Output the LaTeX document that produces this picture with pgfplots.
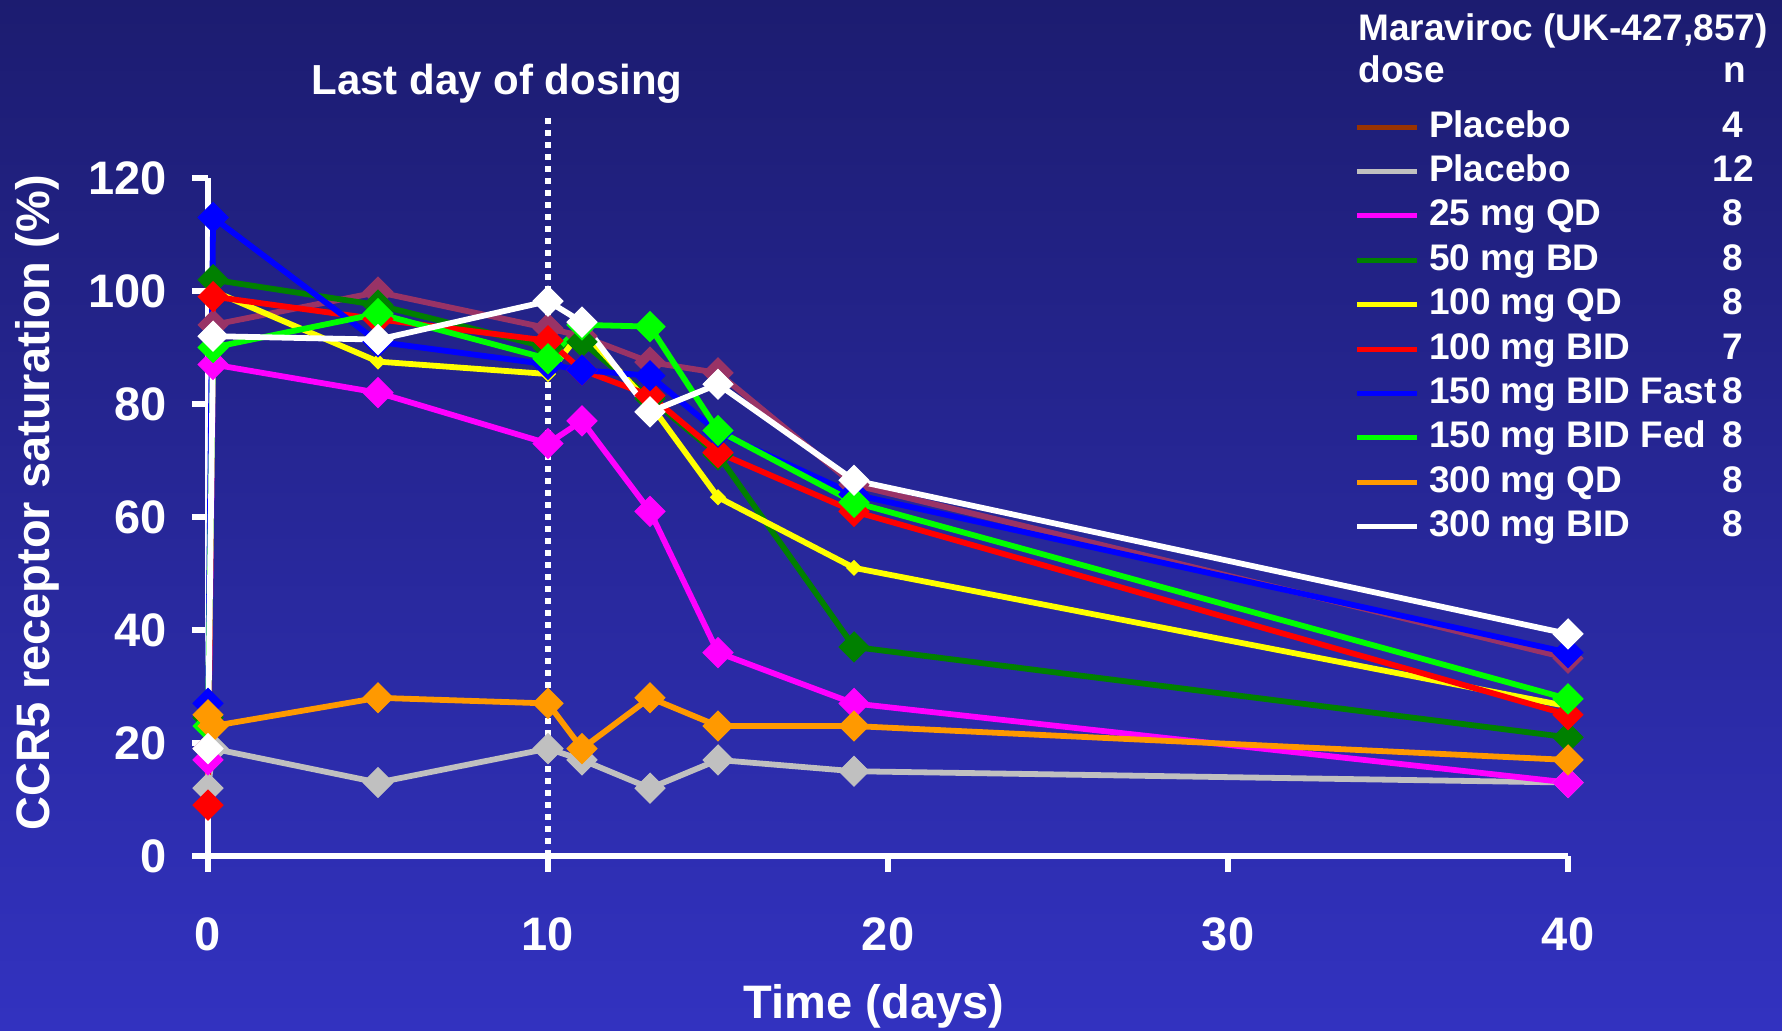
\documentclass[border=0pt]{standalone}
\usepackage{fontspec}
\setmainfont{Liberation Sans}
\usepackage{pgfplots}
\pgfplotsset{compat=1.18}
\definecolor{bgtop}{RGB}{28,28,112}
\definecolor{bgbot}{RGB}{50,50,192}
\definecolor{cmaroon}{RGB}{153,51,102}
\definecolor{cbrown}{RGB}{153,51,0}
\definecolor{cgrey}{RGB}{192,192,192}
\definecolor{cmag}{RGB}{255,0,255}
\definecolor{cdkgreen}{RGB}{0,128,0}
\definecolor{cyellow}{RGB}{255,255,0}
\definecolor{cred}{RGB}{255,0,0}
\definecolor{cblue}{RGB}{0,0,255}
\definecolor{cgreen}{RGB}{0,255,0}
\definecolor{corange}{RGB}{255,153,0}
\newcommand{\ent}[2]{\makebox[142pt][l]{#1}\makebox[20pt][c]{#2}}
\pgfplotsset{dmk/.style={mark options={fill=#1, rotate=45, line width=0.5pt, solid}}}
\begin{document}
\begin{tikzpicture}
\fill[top color=bgtop, bottom color=bgbot] (0,0) rectangle (891pt,515.5pt);
\useasboundingbox (0,0) rectangle (891pt,515.5pt);
\begin{axis}[
  at={(104pt,87.5pt)}, anchor=south west,
  scale only axis, width=680pt, height=339pt,
  xmin=0, xmax=40, ymin=0, ymax=120,
  axis lines=left,
  axis line style={white, line width=3pt, -},
  xtick={0,10,20,30,40}, ytick={0,20,40,60,80,100,120},
  tick style={white, line width=3pt},
  tick align=outside, major tick length=8pt,
  /pgf/number format/assume math mode=true,
  ticklabel style={font=\fontsize{23.5}{28}\selectfont\bfseries, text=white},
  xticklabel style={anchor=center, inner sep=0pt, yshift=-31pt},
  yticklabel style={anchor=east, inner sep=0pt, xshift=-12.5pt},
  clip=false,
  every axis plot/.append style={line width=2.9pt, mark=square*, mark size=5.3pt},
  legend style={at={(0.8431,1.100)}, anchor=north west, draw=none, fill=none,
     inner sep=0pt, outer sep=0pt, text=white,
     font=\fontsize{18.5}{22}\selectfont\bfseries, row sep=5.2pt,
     nodes={inner sep=0pt, text height=13.5pt, text depth=3.5pt}},
  legend cell align=left,
  legend image code/.code={\draw[#1, line width=2.5pt] (0pt,0pt) -- (30pt,0pt); \path (34.5pt,0pt);},
]
\addplot[color=cmaroon, dmk=cmaroon, legend image post style={color=cbrown}] coordinates {
(0,19) (0.15,94) (5,99.8) (10,93.4) (11,92) (13,87.4) (15,85.5) (19,65.7) (40,35)};
\addlegendentry{\ent{Placebo}{4}}
\addplot[color=cgrey, dmk=cgrey] coordinates {
(0,12) (0.15,19) (5,13) (10,19) (11,17) (13,12) (15,17) (19,15) (40,13)};
\addlegendentry{\ent{Placebo}{12}}
\addplot[color=cmag, dmk=cmag] coordinates {
(0,17) (0.15,87) (5,82) (10,73) (11,77) (13,61) (15,36) (19,27) (40,13)};
\addlegendentry{\ent{25 mg QD}{8}}
\addplot[color=cdkgreen, dmk=cdkgreen] coordinates {
(0,24.5) (0.15,102) (5,97.5) (10,90) (11,91) (13,81) (15,71) (19,37) (40,21)};
\addlegendentry{\ent{50 mg BD}{8}}
\addplot[color=cyellow, mark size=2.6pt, dmk=cyellow] coordinates {
(0,22) (0.15,100) (5,87.5) (10,85.3) (11,93) (13,80) (15,63.5) (19,51) (40,26.5)};
\addlegendentry{\ent{100 mg QD}{8}}
\addplot[color=cred, dmk=cred] coordinates {
(0,9) (0.15,99) (5,95) (10,91.2) (11,86) (13,81.5) (15,71.4) (19,61) (40,25)};
\addlegendentry{\ent{100 mg BID}{7}}
\addplot[color=cblue, dmk=cblue] coordinates {
(0,27) (0.15,113) (5,91) (10,87) (11,86) (13,85) (15,75) (19,64) (40,36)};
\addlegendentry{\ent{150 mg BID Fast}{8}}
\addplot[color=cgreen, dmk=cgreen] coordinates {
(0,23) (0.15,90) (5,96) (10,88) (11,94) (13,93.7) (15,75.3) (19,62.6) (40,27.8)};
\addlegendentry{\ent{150 mg BID Fed}{8}}
\addplot[color=corange, dmk=corange] coordinates {
(0,25) (0.15,23) (5,28) (10,27) (11,19) (13,28) (15,23) (19,23) (40,17)};
\addlegendentry{\ent{300 mg QD}{8}}
\addplot[color=white, dmk=white] coordinates {
(0,19) (0.15,92) (5,91.4) (10,98.2) (11,94.5) (13,78.6) (15,83.5) (19,66.5) (40,39.3)};
\addlegendentry{\ent{300 mg BID}{8}}
\addplot[forget plot, color=white, line width=3pt, mark=none, dash pattern=on 3pt off 3pt] coordinates {(10,0) (10,130.8)};
\end{axis}
\node[anchor=base, text=white, font=\fontsize{21}{25}\selectfont\bfseries] at (248.5pt,468pt) {Last day of dosing};
\node[anchor=base, text=white, font=\fontsize{23.5}{28}\selectfont\bfseries] at (437pt,6pt) {Time (days)};
\node[anchor=base, rotate=90, text=white, font=\fontsize{23.5}{28}\selectfont\bfseries] at (24.5pt,264pt) {CCR5 receptor saturation (\%)};
\node[anchor=base west, inner sep=0pt, text=white, font=\fontsize{18.5}{22}\selectfont\bfseries] at (679pt,495pt) {Maraviroc (UK-427,857)};
\node[anchor=base west, inner sep=0pt, text=white, font=\fontsize{18.5}{22}\selectfont\bfseries] at (679pt,474pt) {dose};
\node[anchor=base, inner sep=0pt, text=white, font=\fontsize{18.5}{22}\selectfont\bfseries] at (867.5pt,474pt) {n};
\end{tikzpicture}
\end{document}
